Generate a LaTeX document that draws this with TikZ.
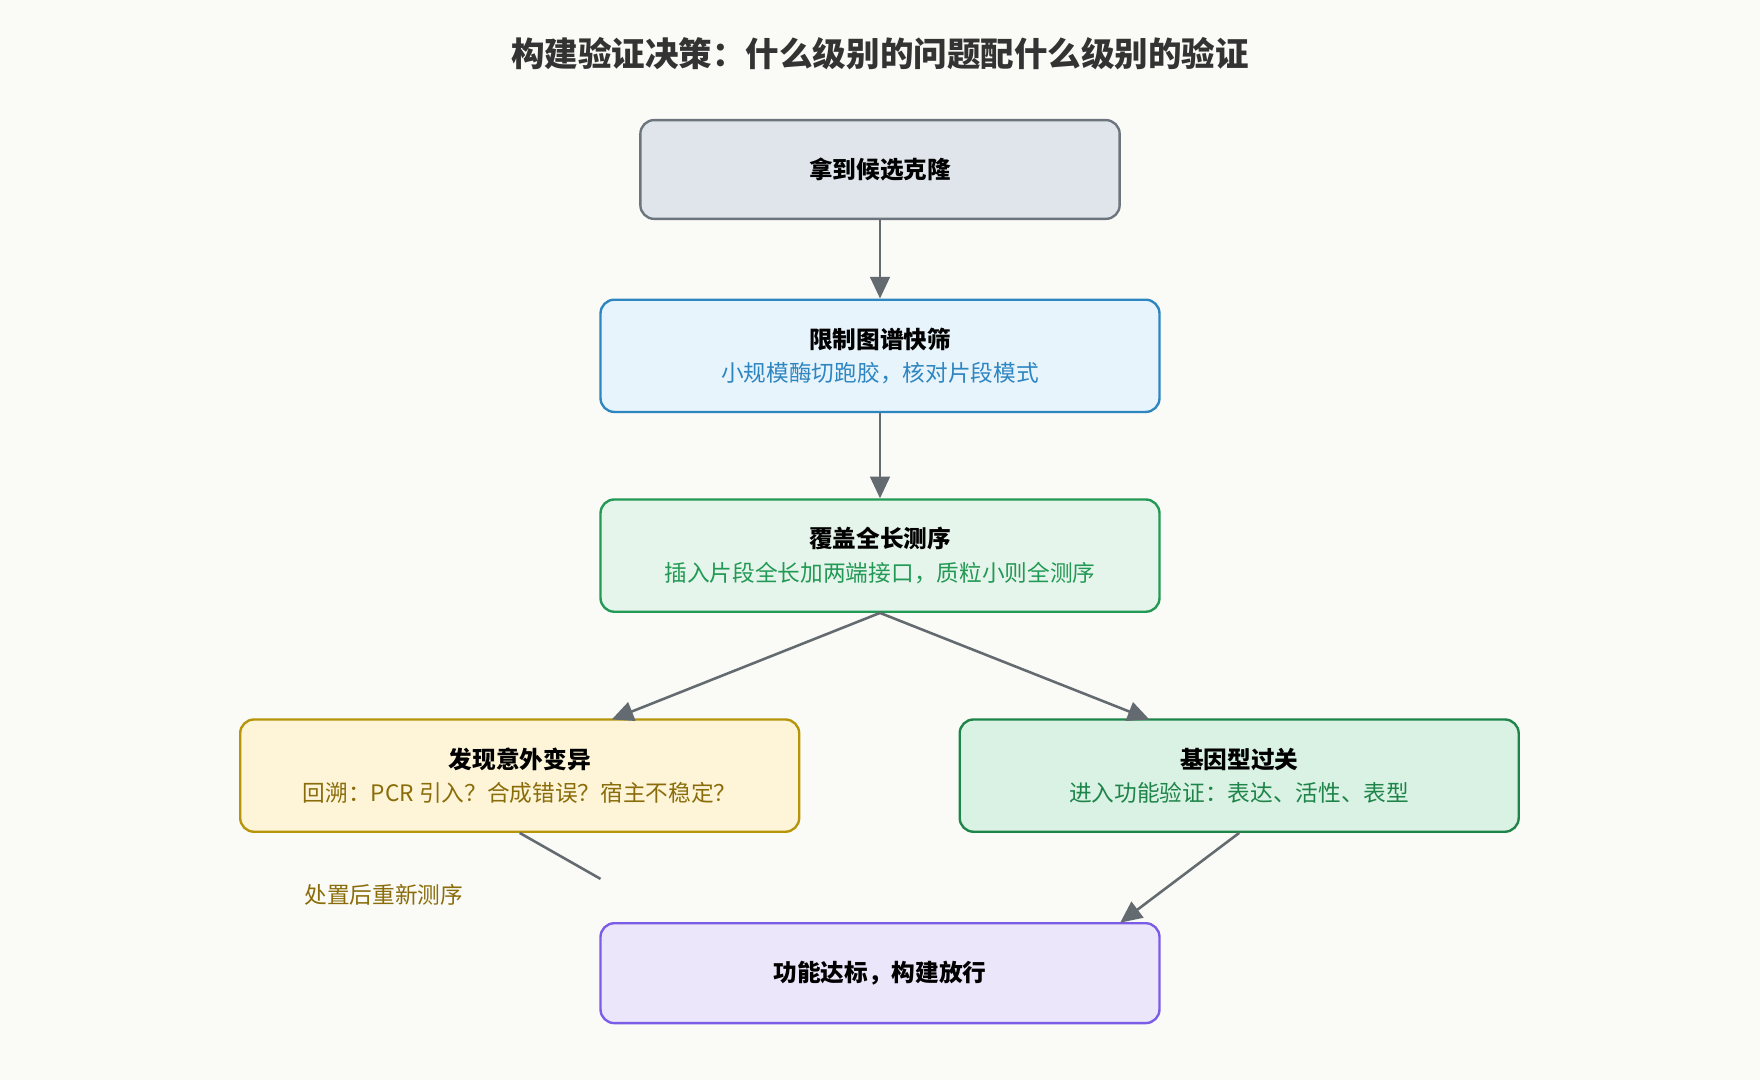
\documentclass[tikz,border=0pt]{standalone}
\usepackage{fontspec}
\setmainfont{Noto Sans CJK SC}
\usetikzlibrary{arrows.meta,calc}
\definecolor{bg}{HTML}{FAFAF6}
\definecolor{arr}{HTML}{646B70}
\definecolor{grayf}{HTML}{DFE5EA}\definecolor{grayd}{HTML}{6C757D}
\definecolor{bluef}{HTML}{E8F4FC}\definecolor{blued}{HTML}{2E86C1}
\definecolor{greenf}{HTML}{E6F5EC}\definecolor{greend}{HTML}{229954}
\definecolor{yelf}{HTML}{FEF5D9}\definecolor{yeld}{HTML}{B7950B}\definecolor{yelt}{HTML}{8A6D0A}
\definecolor{grnf}{HTML}{D9F2E3}\definecolor{grnd}{HTML}{1E8449}
\definecolor{purf}{HTML}{ECE6FB}\definecolor{purd}{HTML}{7B5CE6}
\newcommand{\two}[3]{\textbf{#1}\\[2pt]{\color{#3}\fontsize{11.5}{14}\selectfont #2}}

\begin{document}
\begin{tikzpicture}[x=0.02cm,y=-0.02cm,
    box/.style={draw, rounded corners=7pt, line width=1.2pt, align=center, inner sep=0pt,
        minimum width=498*0.02cm, minimum height=100*0.02cm, font=\fontsize{12}{15}\selectfont},
    link/.style={draw=arr, line width=1.3pt, -{Triangle[length=11pt,width=10pt]}}]
    \fill[bg] (0,0) rectangle (1568,962);
    \useasboundingbox (0,0) rectangle (1568,962);

    % title
    \node (title) at (784,48) {\fontsize{17}{20}\selectfont\bfseries\color[HTML]{333333}构建验证决策：什么级别的问题配什么级别的验证};

    % boxes
    \node[box, fill=grayf, draw=grayd, minimum width=427*0.02cm, minimum height=88*0.02cm] (get) at (784,151) {\textbf{拿到候选克隆}};
    \node[box, fill=bluef, draw=blued] (map) at (784,317) {\two{限制图谱快筛}{小规模酶切跑胶，核对片段模式}{blued}};
    \node[box, fill=greenf, draw=greend] (seq) at (784,495) {\two{覆盖全长测序}{插入片段全长加两端接口，质粒小则全测序}{greend}};
    \node[box, fill=yelf, draw=yeld] (var) at (463,691) {\two{发现意外变异}{回溯：PCR 引入？合成错误？宿主不稳定？}{yelt}};
    \node[box, fill=grnf, draw=grnd] (pass) at (1104,691) {\two{基因型过关}{进入功能验证：表达、活性、表型}{grnd}};
    \node[box, fill=purf, draw=purd, minimum height=89*0.02cm] (done) at (784,867) {\textbf{功能达标，构建放行}};

    % connectors
    \coordinate (var-in) at (545,641);
    \coordinate (pass-in) at (1024,641);
    \coordinate (done-in) at (998,822);
    \coordinate (back) at (535,783);
    \draw[link] (get) -- (map);
    \draw[link] (map) -- (seq);
    \draw[link] (seq.south) -- (var-in);
    \draw[link] (seq.south) -- (pass-in);
    \draw[link] (pass.south) -- (done-in);
    \draw[arr, line width=1.3pt] (var.south) -- (back);
    \node[text=yelt, font=\fontsize{11.5}{14}\selectfont] (redo) at (342,797) {处置后重新测序};
\end{tikzpicture}
\end{document}
